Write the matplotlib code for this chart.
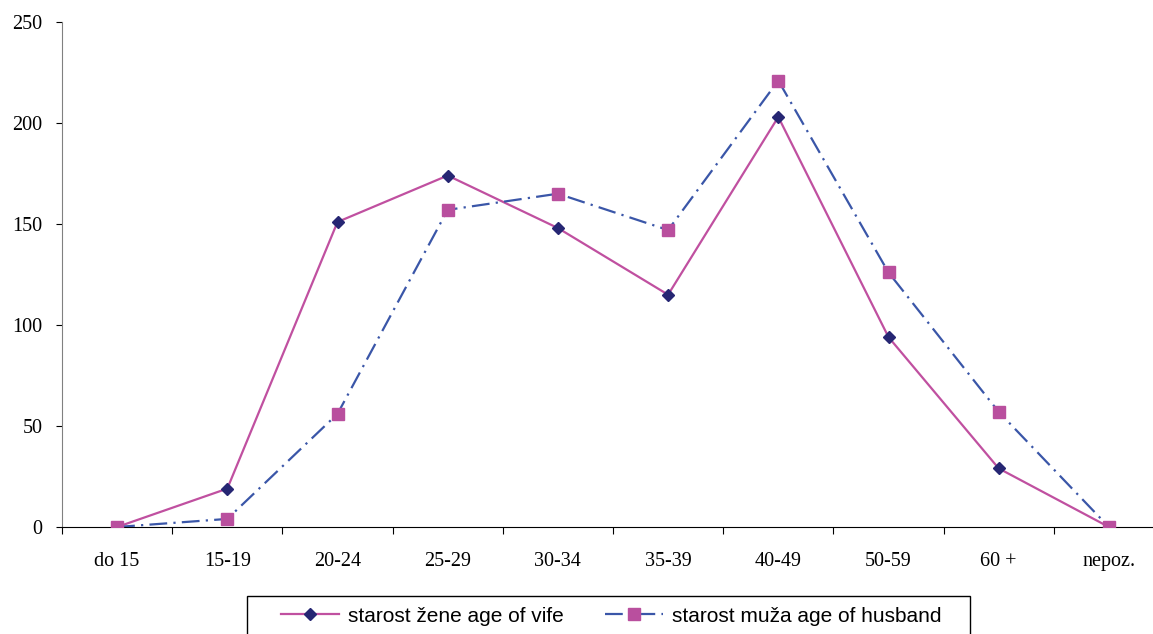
import matplotlib
matplotlib.use("Agg")
import matplotlib.pyplot as plt
from matplotlib.patches import Rectangle

categories = ["do 15", "15-19", "20-24", "25-29", "30-34", "35-39",
              "40-49", "50-59", "60 +", "nepoz."]
wife = [0, 19, 151, 174, 148, 115, 203, 94, 29, 0]
husband = [0, 4, 56, 157, 165, 147, 221, 126, 57, 0]
y_ticks = [0, 50, 100, 150, 200, 250]
label_wife = "starost žene age of vife"
label_husband = "starost muža age of husband"

W, H = 1153, 634
fig = plt.figure(figsize=(W / 100, H / 100), dpi=100)
# axes reaches past the right edge of the image, as in the original crop
ax = fig.add_axes([62 / W, 107 / H, 1102 / W, 505 / H])

x = list(range(len(categories)))
ax.plot(x, wife, color="#C050A0", lw=1.6, marker="D", ms=6.2,
        mfc="#262673", mec="#262673", label=label_wife, zorder=3)
ax.plot(x, husband, color="#3A56A8", lw=1.6, ls=(0, (8, 2.8, 1, 2.8)),
        marker="s", ms=9, mfc="#B94F9E", mec="#B94F9E",
        label=label_husband, zorder=4)

ax.set_xlim(-0.5, len(categories) - 0.5)
ax.set_ylim(0, 250)
ax.set_yticks(y_ticks)
ax.set_xticks([i - 0.5 for i in range(len(categories) + 1)])
ax.set_xticklabels([])
ax.set_xticks(x, minor=True)
ax.set_xticklabels(categories, minor=True)
ax.tick_params(axis="x", which="minor", length=0, pad=18)
ax.tick_params(axis="x", which="major", length=5, direction="out")
ax.tick_params(axis="y", length=4, direction="out", pad=10)
for lab in ax.get_xticklabels(minor=True) + ax.get_yticklabels():
    lab.set_fontfamily("Liberation Serif")
    lab.set_fontsize(14.5)

ax.spines["top"].set_visible(False)
ax.spines["right"].set_visible(False)
ax.spines["left"].set_color("#808080")
ax.spines["bottom"].set_color("black")

# legend box, cut off by the bottom of the image like the reference
fig.patches.append(Rectangle((247 / W, -0.05), 723 / W, 0.05 + 38 / H,
                             transform=fig.transFigure, fill=False,
                             edgecolor="black", lw=1.0))
leg = fig.legend(loc="center", bbox_to_anchor=(611 / W, 18 / H),
                 ncol=2, frameon=False, handlelength=2.8,
                 handletextpad=0.4, columnspacing=2.0,
                 prop={"family": "Liberation Sans", "size": 15})

fig.savefig("out.png", dpi=100)
